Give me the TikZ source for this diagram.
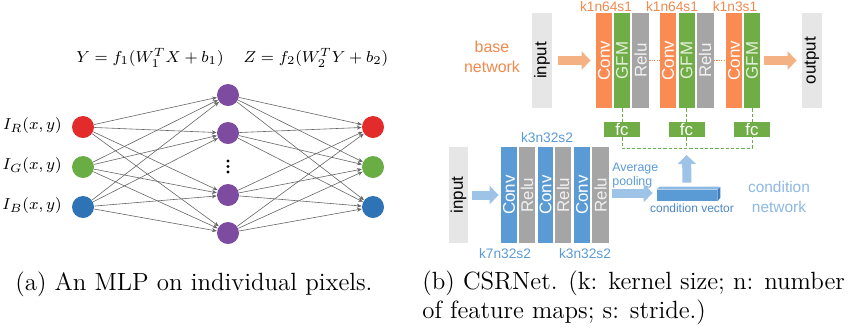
\documentclass[tikz,border=0pt]{standalone}
\usepackage{fontspec}
\newfontfamily\arialf{Liberation Sans}
\usetikzlibrary{arrows.meta}
\definecolor{corange}{HTML}{FA8C53}
\definecolor{cgreen}{HTML}{70AD47}
\definecolor{cgray}{HTML}{A5A5A5}
\definecolor{clgray}{HTML}{E6E6E6}
\definecolor{cblue}{HTML}{5B9BD5}
\definecolor{clblue}{HTML}{9DC3E6}
\definecolor{clorange}{HTML}{F4B183}
\definecolor{torange}{HTML}{F0894E}
\definecolor{tblue}{HTML}{5B9BD5}
\definecolor{tdblue}{HTML}{4A86C5}
\definecolor{tlblue}{HTML}{8DB8E2}
\definecolor{cvtop}{HTML}{8DB9E3}
\definecolor{cvside}{HTML}{3F7CBF}
\definecolor{nred}{HTML}{E32B2B}
\definecolor{ngreen}{HTML}{6BAD45}
\definecolor{nblue}{HTML}{2E73B5}
\definecolor{npurple}{HTML}{7D4BA0}
\newcommand{\capfont}{\fontsize{12.5}{15}\selectfont}
\begin{document}
\begin{tikzpicture}[x=0.5bp,y=-0.5bp,
  neuron/.style={circle, minimum size=11bp, inner sep=0pt, draw=none},
  mlpedge/.style={draw=black!60, line width=0.3bp, -{Stealth[length=2.4bp,width=2bp]}},
  mathlab/.style={inner sep=0pt, font=\fontsize{8.5}{10}\selectfont},
  ilab/.style={inner sep=0pt, anchor=east, font=\fontsize{8.2}{10}\selectfont},
  layer/.style={inner sep=0pt, minimum height=47.5bp, text=white, font=\arialf\fontsize{8.5}{10}\selectfont},
  blayer/.style={layer, minimum height=48bp},
  bigarrow/.style={line width=4.5bp, -{Triangle[length=4.5bp,width=9bp]}},
  dotline/.style={draw=torange, line width=0.5bp, dash pattern=on 0.6bp off 0.6bp},
  dashline/.style={draw=cgreen, line width=0.45bp, dash pattern=on 1.6bp off 1bp},
  klab/.style={inner sep=0pt, text=torange, font=\arialf\fontsize{6.9}{8}\selectfont},
  blab/.style={inner sep=0pt, text=tblue, font=\arialf\fontsize{6.9}{8}\selectfont},
  captext/.style={anchor=base west, inner sep=0pt, font=\capfont},
  fcbox/.style={inner sep=0pt, fill=cgreen, minimum width=18bp, minimum height=7.5bp, text=white, font=\arialf\fontsize{8.5}{10}\selectfont}
]
\useasboundingbox (0,0) rectangle (850,331);

% ---------------- (a) MLP ----------------
\node[mathlab] (eq1) at (150,58) {$Y=f_1(W_1^TX+b_1)$};
\node[mathlab] (eq2) at (316,58) {$Z=f_2(W_2^TY+b_2)$};

\node[neuron, fill=nred]   (in1) at (83,127) {};
\node[neuron, fill=ngreen] (in2) at (83,167) {};
\node[neuron, fill=nblue]  (in3) at (83,207) {};
\node[neuron, fill=npurple] (h1) at (228,95) {};
\node[neuron, fill=npurple] (h2) at (228,133) {};
\node[neuron, fill=npurple] (h3) at (228,195) {};
\node[neuron, fill=npurple] (h4) at (228,233) {};
\node[neuron, fill=nred]   (out1) at (373,127) {};
\node[neuron, fill=ngreen] (out2) at (373,167) {};
\node[neuron, fill=nblue]  (out3) at (373,207) {};

\foreach \yy in {161,166.5,172} \fill[black] (228,\yy) circle (0.8bp);

\node[ilab] (lR) at (62,126) {$I_R(x,y)$};
\node[ilab] (lG) at (62,166) {$I_G(x,y)$};
\node[ilab] (lB) at (62,206) {$I_B(x,y)$};

\foreach \i in {1,2,3}
  \foreach \j in {1,2,3,4}
    \draw[mlpedge] (in\i) -- (h\j);
\foreach \j in {1,2,3,4}
  \foreach \k in {1,2,3}
    \draw[mlpedge] (h\j) -- (out\k);

\node[captext] (capa) at (15,290) {(a) An MLP on individual pixels.};

% ---------------- (b) CSRNet ----------------
\node[inner sep=0pt, align=center, text=torange, font=\arialf\fontsize{8}{10}\selectfont] (basenet) at (492,57) {base\\network};

\node[layer, fill=clgray, text=black, minimum width=10bp] (inA) at (542,60.5) {\rotatebox{90}{input}};
\node[layer, fill=corange, minimum width=8bp] (conv1) at (604,60.5) {\rotatebox{90}{Conv}};
\node[layer, fill=cgreen, text=white!80!cgreen, minimum width=8bp] (gfm1) at (622,60.5) {\rotatebox{90}{GFM}};
\node[layer, fill=cgray, text=white!85!cgray, minimum width=8.5bp] (relu1) at (640.5,60.5) {\rotatebox{90}{Relu}};
\node[layer, fill=corange, minimum width=8bp] (conv2) at (668,60.5) {\rotatebox{90}{Conv}};
\node[layer, fill=cgreen, text=white!80!cgreen, minimum width=8bp] (gfm2) at (686.5,60.5) {\rotatebox{90}{GFM}};
\node[layer, fill=cgray, text=white!85!cgray, minimum width=8.5bp] (relu2) at (705,60.5) {\rotatebox{90}{Relu}};
\node[layer, fill=corange, minimum width=8bp] (conv3) at (734,60.5) {\rotatebox{90}{Conv}};
\node[layer, fill=cgreen, text=white!80!cgreen, minimum width=8bp] (gfm3) at (752,60.5) {\rotatebox{90}{GFM}};
\node[layer, fill=clgray, text=black, minimum width=10bp] (outA) at (812,60.5) {\rotatebox{90}{output}};

\node[klab] (k1) at (606,7) {k1n64s1};
\node[klab] (k2) at (672,7) {k1n64s1};
\node[klab] (k3) at (735,7) {k1n3s1};

\draw[bigarrow, clorange, shorten <=3bp, shorten >=2.5bp] (inA.east) -- (conv1.west);
\draw[bigarrow, clorange, shorten <=2bp, shorten >=2.5bp] (gfm3.east) -- (outA.west);
\draw[dotline] (relu1.east) -- (conv2.west);
\draw[dotline] (relu2.east) -- (conv3.west);

% fc layers
\node[fcbox] (fc1) at (622,129.5) {fc};
\node[fcbox] (fc2) at (686.5,129.5) {fc};
\node[fcbox] (fc3) at (752,129.5) {fc};
\coordinate (busL) at (622,148);
\coordinate (busM) at (686.5,148);
\coordinate (busR) at (752,148);
\draw[dashline] (gfm1.south) -- (fc1.north);
\draw[dashline] (gfm2.south) -- (fc2.north);
\draw[dashline] (gfm3.south) -- (fc3.north);
\draw[dashline] (fc1.south) -- (busL) -- (busR) -- (fc3.south);
\draw[dashline] (fc2.south) -- (busM);

% condition network
\node[blayer, fill=clgray, text=black, minimum width=9.5bp] (inB) at (458.5,195) {\rotatebox{90}{input}};
\node[blayer, fill=cblue, minimum width=8bp] (cb1) at (509,195) {\rotatebox{90}{Conv}};
\node[blayer, fill=cgray, text=white!85!cgray, minimum width=8bp] (rb1) at (527,195) {\rotatebox{90}{Relu}};
\node[blayer, fill=cblue, minimum width=7.5bp] (cb2) at (545.5,195) {\rotatebox{90}{Conv}};
\node[blayer, fill=cgray, text=white!85!cgray, minimum width=8bp] (rb2) at (563,195) {\rotatebox{90}{Relu}};
\node[blayer, fill=cblue, minimum width=8bp] (cb3) at (582,195) {\rotatebox{90}{Conv}};
\node[blayer, fill=cgray, text=white!85!cgray, minimum width=8.5bp] (rb3) at (600.5,195) {\rotatebox{90}{Relu}};

\node[blab] (kb1) at (547,138) {k3n32s2};
\node[blab] (kb2) at (505,254) {k7n32s2};
\node[blab] (kb3) at (585,254) {k3n32s2};

\draw[bigarrow, clblue, shorten <=2bp, shorten >=1bp] (inB.east) -- (cb1.west);

% condition vector
\node[inner sep=0pt, fill=cblue, minimum width=30bp, minimum height=5.5bp] (cv) at (687,195.5) {};
\fill[cvtop] (cv.north west) -- ++(3,-3) -- ++(60,0) -- (cv.north east) -- cycle;
\fill[cvside] (cv.north east) -- ++(3,-3) -- ++(0,11) -- (cv.south east) -- cycle;
\draw[bigarrow, clblue, shorten <=1.5bp, shorten >=2bp] (rb3.east |- 0,193) -- (cv.west |- 0,193);
\draw[bigarrow, clblue, shorten <=3.5bp, shorten >=3.5bp] (cv.north) -- (busM);

\node[inner sep=0pt, anchor=west, align=left, text=tblue, font=\arialf\fontsize{6.2}{7.5}\selectfont] (avg) at (612,175.5) {Average\\pooling};
\node[inner sep=0pt, text=tdblue, font=\arialf\fontsize{6}{7}\selectfont] (cvlab) at (692,208) {condition vector};
\node[inner sep=0pt, align=center, text=tlblue, font=\arialf\fontsize{7.75}{10}\selectfont] (condnet) at (779,197) {condition\\network};

\node[captext] (capb1) at (422,289) {(b) CSRNet. (k: kernel size; n: number};
\node[captext] (capb2) at (422,318) {of feature maps; s: stride.)};
\end{tikzpicture}
\end{document}
